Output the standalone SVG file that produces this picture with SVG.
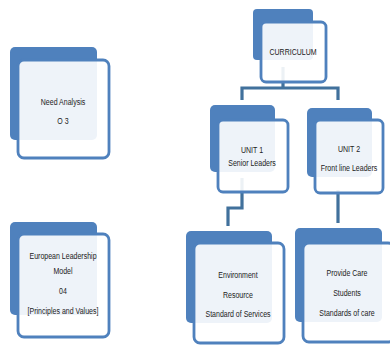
<svg xmlns="http://www.w3.org/2000/svg" width="390" height="346" viewBox="0 0 390 346">
<style>
.back{fill:#4f81bd}
.front{fill:#ffffff;fill-opacity:0.9;stroke:#4f81bd;stroke-width:2.8}
.conn{fill:none;stroke:#41719c;stroke-width:3.2}
text{font-family:"Liberation Sans",Arial,sans-serif;font-size:9px;fill:#222;text-anchor:middle}
</style>
<rect width="390" height="346" fill="#fff"/>
<g id="connectors">
<path class="conn" d="M283,67 V88 M242,100 V88 H338 V100"/>
<path class="conn" d="M242,178 V208 H228 V226"/>
<path class="conn" d="M338,190 V223"/>
</g>
<g id="need-analysis">
<rect class="back" x="10" y="47" width="87" height="93" rx="5"/>
<rect class="front" x="18" y="60" width="91" height="98" rx="6"/>
<text transform="translate(63,105) scale(0.78,1)">Need Analysis</text>
<text transform="translate(63,124) scale(0.78,1)">O 3</text>
</g>
<g id="european-leadership-model">
<rect class="back" x="10" y="222" width="87" height="93" rx="5"/>
<rect class="front" x="18" y="234" width="91" height="103" rx="6"/>
<text transform="translate(63,259) scale(0.78,1)">European Leadership</text>
<text transform="translate(63,274) scale(0.78,1)">Model</text>
<text transform="translate(63,294) scale(0.78,1)">04</text>
<text transform="translate(63,314) scale(0.78,1)">[Principles and Values]</text>
</g>
<g id="curriculum">
<rect class="back" x="253" y="9" width="60" height="51" rx="4"/>
<rect class="front" x="261" y="22" width="65" height="60" rx="5"/>
<text transform="translate(293,55) scale(0.78,1)">CURRICULUM</text>
</g>
<g id="unit1">
<rect class="back" x="210" y="105" width="65" height="67" rx="5"/>
<rect class="front" x="218" y="120" width="70" height="72" rx="5"/>
<text transform="translate(252,153) scale(0.78,1)">UNIT 1</text>
<text transform="translate(252,166) scale(0.78,1)">Senior Leaders</text>
</g>
<g id="unit2">
<rect class="back" x="307" y="108" width="65" height="69" rx="5"/>
<rect class="front" x="315" y="120" width="68" height="73" rx="5"/>
<text transform="translate(349,152) scale(0.78,1)">UNIT 2</text>
<text transform="translate(349,171) scale(0.78,1)">Front line  Leaders</text>
</g>
<g id="environment">
<rect class="back" x="186" y="231" width="86" height="92" rx="5"/>
<rect class="front" x="194" y="243" width="90" height="100" rx="6"/>
<text transform="translate(238,278) scale(0.78,1)">Environment</text>
<text transform="translate(238,298) scale(0.78,1)">Resource</text>
<text transform="translate(238,317) scale(0.78,1)">Standard of Services</text>
</g>
<g id="provide-care">
<rect class="back" x="295" y="228" width="87" height="94" rx="5"/>
<rect class="front" x="303" y="243" width="91" height="99" rx="6"/>
<text transform="translate(347,276) scale(0.78,1)">Provide Care</text>
<text transform="translate(347,296) scale(0.78,1)">Students</text>
<text transform="translate(347,316) scale(0.78,1)">Standards of care</text>
</g>
</svg>
